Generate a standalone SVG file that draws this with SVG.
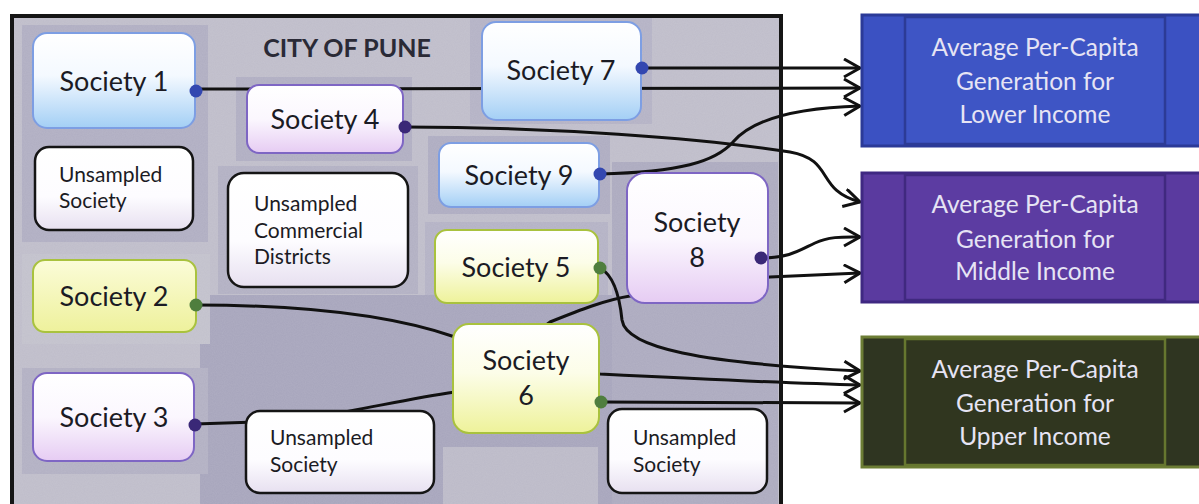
<svg xmlns="http://www.w3.org/2000/svg" width="1199" height="504" viewBox="0 0 1199 504">
  <defs>
    <linearGradient id="gBlue" x1="0" y1="0" x2="0" y2="1">
      <stop offset="0" stop-color="#ffffff"/>
      <stop offset="0.45" stop-color="#f4f9ff"/>
      <stop offset="1" stop-color="#a3cff5"/>
    </linearGradient>
    <linearGradient id="gPurple" x1="0" y1="0" x2="0" y2="1">
      <stop offset="0" stop-color="#ffffff"/>
      <stop offset="0.5" stop-color="#fbf7fe"/>
      <stop offset="1" stop-color="#e6ccf3"/>
    </linearGradient>
    <linearGradient id="gYellow" x1="0" y1="0" x2="0" y2="1">
      <stop offset="0" stop-color="#ffffff"/>
      <stop offset="0.45" stop-color="#fcfde8"/>
      <stop offset="1" stop-color="#eef29a"/>
    </linearGradient>
    <linearGradient id="gYellow2" x1="0" y1="0" x2="0" y2="1">
      <stop offset="0" stop-color="#fbfcd8"/>
      <stop offset="1" stop-color="#eef19c"/>
    </linearGradient>
    <linearGradient id="gWhite" x1="0" y1="0" x2="0" y2="1">
      <stop offset="0" stop-color="#ffffff"/>
      <stop offset="0.6" stop-color="#fdfcff"/>
      <stop offset="1" stop-color="#e7e0f0"/>
    </linearGradient>
    <marker id="arrow" markerUnits="userSpaceOnUse" markerWidth="20" markerHeight="22" refX="17" refY="10" orient="auto">
      <path d="M1,1 L17,10 L1,19" fill="none" stroke="#111" stroke-width="3" stroke-linejoin="miter"/>
    </marker>
    <filter id="noise" x="0" y="0" width="100%" height="100%">
      <feTurbulence type="fractalNoise" baseFrequency="0.9" numOctaves="2" seed="3" result="t"/>
      <feColorMatrix type="matrix" values="0 0 0 0 1  0 0 0 0 1  0 0 0 0 1  0 0 0 0.18 0" />
    </filter>
  </defs>
  <style>
    .lbl { font-family: "Lato", "Open Sans", sans-serif; fill: #1b1b24; }
    .big { font-size: 27px; }
    .small { font-size: 21px; }
    .title { font-family: "Lato", "Open Sans", sans-serif; font-weight: bold; font-size: 25px; fill: #2a2a36; }
    .blue { fill: url(#gBlue); stroke: #7d9ee3; stroke-width: 2; }
    .purple { fill: url(#gPurple); stroke: #7e66c4; stroke-width: 2; }
    .yellow { fill: url(#gYellow); stroke: #a9c23e; stroke-width: 2; }
    .unsamp { fill: url(#gWhite); stroke: #151515; stroke-width: 2.5; }
    .conn { fill: none; stroke: #111; stroke-width: 3; }
    .arr { marker-end: url(#arrow); }
    .dotB { fill: #3347b0; }
    .dotP { fill: #3a2877; }
    .dotG { fill: #4f7e3e; }
    .rtext { font-family: "Lato", "Open Sans", sans-serif; font-size: 24.5px; fill: #e6e4f4; text-anchor: middle; }
  </style>

  <rect width="1199" height="504" fill="#ffffff"/>

  <!-- city background -->
  <g id="city">
    <rect x="12" y="16" width="769" height="500" fill="#bfbdca"/>
    <rect x="22" y="25" width="186" height="217" fill="#b0aec2"/>
    <rect x="236" y="77" width="176" height="84" fill="#b0aec2"/>
    <rect x="218" y="166" width="200" height="128" fill="#b2b0c3"/>
    <rect x="470" y="18" width="182" height="106" fill="#b4b2c5"/>
    <rect x="428" y="136" width="182" height="78" fill="#aeacc1"/>
    <rect x="425" y="222" width="183" height="86" fill="#b4b2c5"/>
    <rect x="612" y="162" width="166" height="342" fill="#acaabf"/>
    <rect x="200" y="295" width="412" height="209" fill="#a7a5bc"/>
    <rect x="22" y="254" width="188" height="90" fill="#c2c1cc"/>
    <rect x="22" y="368" width="186" height="106" fill="#b2b0c3"/>
    <rect x="443" y="447" width="155" height="57" fill="#bcbac8"/>
    <rect x="12" y="16" width="769" height="500" filter="url(#noise)" opacity="0.5"/>
    <text class="title" x="347" y="57" text-anchor="middle">CITY OF PUNE</text>
  </g>

  <!-- connectors -->
  <g id="connectors">
    <path class="conn arr" d="M196,89 L860,88"/>
    <path class="conn arr" d="M642,68 L860,68"/>
    <path class="conn arr" d="M600,174 C 680,172 715,162 733,142 C 750,122 790,108 860,106"/>
    <path class="conn arr" d="M405,127 C 550,127 700,138 790,152 C 835,160 815,190 860,202"/>
    <path class="conn arr" d="M760,258 C 790,258 800,250 815,243 C 830,236 845,237 860,237"/>
    <path class="conn arr" d="M195,424 L260,422 C 330,419 385,402 455,392 L550,322 C 580,310 605,300 630,296 L770,277 L860,273"/>
    <path class="conn arr" d="M196,305 C 320,305 400,318 455,337 L600,374 C 700,379 780,383 860,385"/>
    <path class="conn arr" d="M600,268 C 615,276 620,300 622,320 C 626,348 700,363 860,371"/>
    <path class="conn arr" d="M601,402 L860,403"/>
  </g>

  <!-- city border on top -->
  <rect x="12" y="16" width="769" height="500" fill="none" stroke="#151515" stroke-width="4"/>

  <g id="society1">
    <rect class="blue" x="33" y="33" width="162" height="95" rx="14"/>
    <text class="lbl big" x="114" y="91" text-anchor="middle">Society 1</text>
    <circle class="dotB" cx="196" cy="91" r="6.5"/>
  </g>
  <g id="society4">
    <rect class="purple" x="247" y="85" width="156" height="68" rx="12"/>
    <text class="lbl big" x="325" y="129" text-anchor="middle">Society 4</text>
    <circle class="dotP" cx="405" cy="127" r="6.5"/>
  </g>
  <g id="society7">
    <rect class="blue" x="482" y="22" width="159" height="98" rx="14"/>
    <text class="lbl big" x="561" y="80" text-anchor="middle">Society 7</text>
    <circle class="dotB" cx="642" cy="68" r="6.5"/>
  </g>
  <g id="society9">
    <rect class="blue" x="439" y="143" width="160" height="64" rx="12"/>
    <text class="lbl big" x="519" y="185" text-anchor="middle">Society 9</text>
    <circle class="dotB" cx="600" cy="174" r="6.5"/>
  </g>
  <g id="society8">
    <rect class="purple" x="627" y="173" width="141" height="130" rx="18"/>
    <text class="lbl big" x="697" y="232" text-anchor="middle">Society</text>
    <text class="lbl big" x="697" y="267" text-anchor="middle">8</text>
    <circle class="dotP" cx="761" cy="258" r="6.5"/>
  </g>
  <g id="society5">
    <rect class="yellow" x="435" y="230" width="163" height="73" rx="12"/>
    <text class="lbl big" x="516" y="277" text-anchor="middle">Society 5</text>
    <circle class="dotG" cx="600" cy="268" r="6.5"/>
  </g>
  <g id="society6">
    <rect class="yellow" x="453" y="324" width="146" height="109" rx="16"/>
    <text class="lbl big" x="526" y="370" text-anchor="middle">Society</text>
    <text class="lbl big" x="526" y="405" text-anchor="middle">6</text>
    <circle class="dotG" cx="601" cy="402" r="6.5"/>
  </g>
  <g id="society2">
    <rect x="33" y="260" width="163" height="72" rx="12" fill="url(#gYellow2)" stroke="#a9c23e" stroke-width="2"/>
    <text class="lbl big" x="114" y="306" text-anchor="middle">Society 2</text>
    <circle class="dotG" cx="196" cy="305" r="6.5"/>
  </g>
  <g id="society3">
    <rect class="purple" x="33" y="373" width="161" height="88" rx="14"/>
    <text class="lbl big" x="114" y="427" text-anchor="middle">Society 3</text>
    <circle class="dotP" cx="195" cy="425" r="6.5"/>
  </g>
  <g id="unsampled1">
    <rect class="unsamp" x="35" y="147" width="158" height="83" rx="14"/>
    <text class="lbl small" x="59" y="182">Unsampled</text>
    <text class="lbl small" x="59" y="208">Society</text>
  </g>
  <g id="commercial">
    <rect class="unsamp" x="228" y="173" width="180" height="114" rx="16"/>
    <text class="lbl small" x="254" y="211">Unsampled</text>
    <text class="lbl small" x="254" y="238">Commercial</text>
    <text class="lbl small" x="254" y="264">Districts</text>
  </g>
  <g id="unsampled2">
    <rect class="unsamp" x="246" y="411" width="188" height="82" rx="14"/>
    <text class="lbl small" x="270" y="445">Unsampled</text>
    <text class="lbl small" x="270" y="472">Society</text>
  </g>
  <g id="unsampled3">
    <rect class="unsamp" x="608" y="409" width="159" height="84" rx="14"/>
    <text class="lbl small" x="633" y="445">Unsampled</text>
    <text class="lbl small" x="633" y="472">Society</text>
  </g>

  <g id="lower">
    <rect x="862" y="15" width="345" height="131" fill="#3b51c2" stroke="#2b3a98" stroke-width="3"/>
    <rect x="905" y="17" width="260" height="127" fill="#3e55c5" stroke="#2c3b96" stroke-width="2.5"/>
    <text class="rtext" x="1035" y="56">Average Per-Capita</text>
    <text class="rtext" x="1035" y="90">Generation for</text>
    <text class="rtext" x="1035" y="123">Lower Income</text>
  </g>
  <g id="middle">
    <rect x="862" y="173" width="345" height="129" fill="#5a3a9f" stroke="#3f2882" stroke-width="3"/>
    <rect x="905" y="175" width="260" height="125" fill="#5c3ca2" stroke="#40297f" stroke-width="2.5"/>
    <text class="rtext" x="1035" y="213">Average Per-Capita</text>
    <text class="rtext" x="1035" y="248">Generation for</text>
    <text class="rtext" x="1035" y="280">Middle Income</text>
  </g>
  <g id="upper">
    <rect x="862" y="337" width="345" height="130" fill="#2f3521" stroke="#6c7d35" stroke-width="3"/>
    <rect x="905" y="339" width="260" height="126" fill="#30361f" stroke="#66772f" stroke-width="2.5"/>
    <text class="rtext" x="1035" y="378">Average Per-Capita</text>
    <text class="rtext" x="1035" y="412">Generation for</text>
    <text class="rtext" x="1035" y="445">Upper Income</text>
  </g>
</svg>
